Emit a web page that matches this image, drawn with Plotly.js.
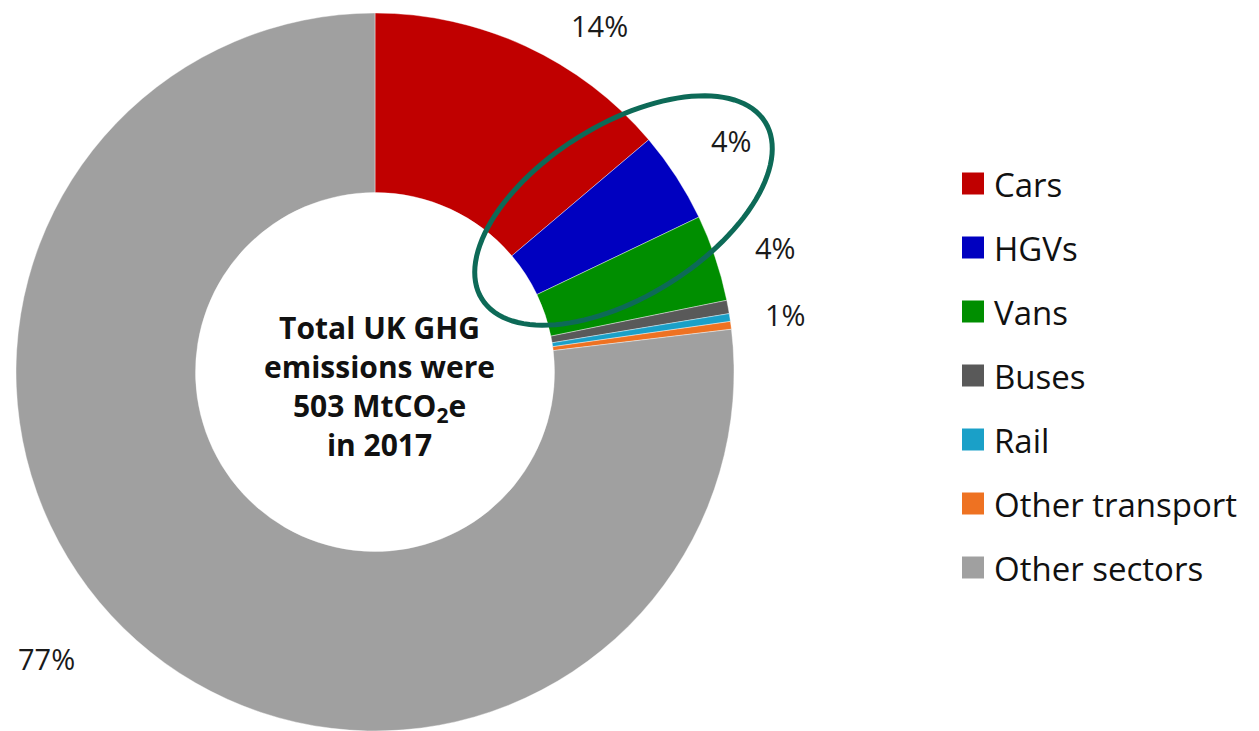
<!DOCTYPE html>
<html>
<head>
<meta charset="utf-8">
<script src="https://cdn.plot.ly/plotly-3.0.1.min.js"></script>
<style>html,body{margin:0;padding:0;background:#fff;}#chart{width:1259px;height:731px;}</style>
</head>
<body>
<div id="chart"></div>
<script>
// ---- data ----
var categories = ['Cars', 'HGVs', 'Vans', 'Buses', 'Rail', 'Other transport', 'Other sectors'];
var shares = [13.8, 4.1, 3.9, 0.6, 0.35, 0.35, 76.9];
var colors = ['#C00000', '#0000C0', '#008E00', '#595959', '#1AA0C8', '#EE7222', '#A0A0A0'];
var pctLabels = ['14%', '4%', '4%', '1%', '77%'];
var centerText = 'Total UK GHG<br>emissions were<br>503 MtCO<sub>2</sub>e<br>in 2017';

var W = 1259, H = 731;
function px(x) { return x / W; }
function py(y) { return 1 - y / H; }

var font = '"Open Sans", "Noto Sans", sans-serif';

var trace = {
  type: 'pie',
  labels: categories,
  values: shares,
  sort: false,
  direction: 'clockwise',
  rotation: 0,
  hole: 0.5,
  textinfo: 'none',
  hoverinfo: 'label+percent',
  marker: { colors: colors, line: { color: '#ffffff', width: 0.4 } },
  showlegend: false,
  domain: { x: [px(16), px(734)], y: [py(731), py(13)] }
};

// percentage labels
var labelPos = [[599, 25], [731, 140], [775, 247], [785, 314], [46, 658]];
var annotations = pctLabels.map(function (t, i) {
  return {
    xref: 'paper', yref: 'paper', x: px(labelPos[i][0]), y: py(labelPos[i][1]),
    text: t, showarrow: false, xanchor: 'center', yanchor: 'middle',
    font: { family: font, size: 29, color: '#1a1a1a' }
  };
});

// centre text
annotations.push({
  xref: 'paper', yref: 'paper', x: px(379), y: py(386),
  text: '<b>' + centerText + '</b>', showarrow: false,
  xanchor: 'center', yanchor: 'middle', align: 'center',
  font: { family: font, size: 30, color: '#111111' }
});

// custom legend
var shapes = [];
var legY0 = 183.5, legGap = 64;
categories.forEach(function (c, i) {
  var yc = legY0 + i * legGap;
  shapes.push({
    type: 'rect', xref: 'paper', yref: 'paper',
    x0: px(962), x1: px(984), y0: py(yc + 11), y1: py(yc - 11),
    fillcolor: colors[i], line: { width: 0 }
  });
  annotations.push({
    xref: 'paper', yref: 'paper', x: px(992), y: py(yc + 1),
    text: c, showarrow: false, xanchor: 'left', yanchor: 'middle',
    font: { family: font, size: 33, color: '#111111' }
  });
});

// highlight ellipse
(function () {
  var cx = 623.5, cy = 210.5, a = 167, b = 86, th = -32 * Math.PI / 180;
  var d = '';
  for (var k = 0; k <= 120; k++) {
    var t = 2 * Math.PI * k / 120;
    var ex = a * Math.cos(t), ey = b * Math.sin(t);
    var x = cx + ex * Math.cos(th) - ey * Math.sin(th);
    var y = cy + ex * Math.sin(th) + ey * Math.cos(th);
    d += (k === 0 ? 'M' : 'L') + px(x).toFixed(5) + ',' + py(y).toFixed(5);
  }
  d += 'Z';
  shapes.push({ type: 'path', xref: 'paper', yref: 'paper', path: d,
    line: { color: '#0D6A57', width: 5 }, fillcolor: 'rgba(0,0,0,0)' });
})();

var layout = {
  width: W, height: H,
  margin: { l: 0, r: 0, t: 0, b: 0 },
  paper_bgcolor: '#ffffff',
  plot_bgcolor: '#ffffff',
  annotations: annotations,
  shapes: shapes,
  showlegend: false
};

Plotly.newPlot('chart', [trace], layout, { displayModeBar: false, staticPlot: true });
</script>
</body>
</html>
